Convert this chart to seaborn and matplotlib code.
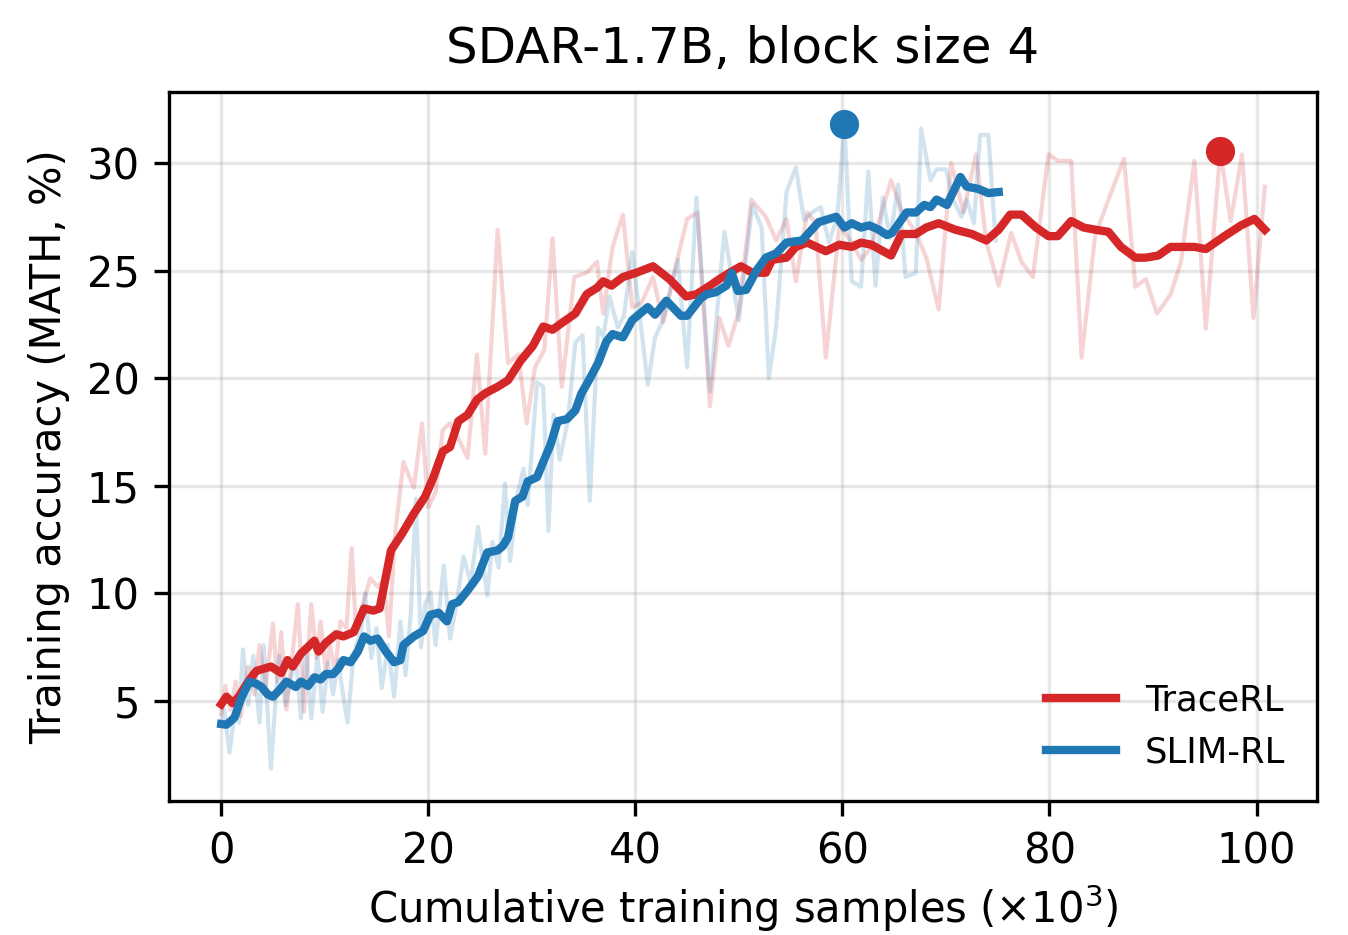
import numpy as np
import pandas as pd
import matplotlib
matplotlib.use("Agg")
import matplotlib.pyplot as plt
import seaborn as sns

# TraceRL: smoothed curve + raw per-step accuracy
trace_smooth_x = [0, 0.5, 1.1, 1.7, 2.6, 3.4, 4.8, 5.8, 6.4, 6.9, 7.7, 9.0, 9.4, 10.1, 11.1, 11.8,
                  12.8, 13.8, 14.7, 15.3, 16.4, 17.5, 18.6, 19.7, 20.5, 21.4, 22.1, 22.9, 23.8, 24.7,
                  25.5, 26.7, 27.7, 28.9, 30.1, 31.1, 32.0, 33.0, 34.2, 35.3, 36.3, 36.9, 37.7, 38.8,
                  40.1, 41.7, 43.3, 44.9, 45.9, 47.2, 48.1, 49.1, 50.2, 51.3, 52.6, 53.2, 54.6, 55.5,
                  56.6, 58.4, 59.7, 60.9, 61.8, 62.8, 64.7, 65.7, 67.1, 68.1, 69.3, 70.9, 72.5, 73.9,
                  75.1, 76.2, 77.3, 78.7, 79.9, 80.8, 82.1, 83.3, 84.4, 85.7, 86.9, 88.3, 89.3, 90.5,
                  91.7, 94.0, 95.1, 96.9, 98.5, 99.8, 100.8]
trace_smooth_y = [4.85, 5.2, 4.9, 5.2, 5.9, 6.4, 6.6, 6.3, 6.9, 6.6, 7.2, 7.8, 7.3, 7.7, 8.1, 8.0,
                  8.2, 9.3, 9.2, 9.3, 12.0, 12.8, 13.7, 14.5, 15.4, 16.6, 16.8, 18.0, 18.3, 19.0,
                  19.3, 19.6, 19.9, 20.8, 21.5, 22.4, 22.25, 22.6, 23.0, 23.9, 24.2, 24.5, 24.3, 24.7,
                  24.9, 25.2, 24.6, 23.8, 23.9, 24.3, 24.6, 24.9, 25.2, 24.9, 24.9, 25.5, 25.6, 26.1,
                  26.3, 25.9, 26.2, 26.1, 26.3, 26.2, 25.7, 26.7, 26.7, 27.0, 27.2, 26.9, 26.7, 26.4,
                  26.9, 27.6, 27.6, 27.0, 26.6, 26.6, 27.3, 27.0, 26.9, 26.8, 26.1, 25.6, 25.6, 25.7,
                  26.1, 26.1, 26.0, 26.6, 27.1, 27.4, 26.9]

trace_raw_x = [0, 0.4, 0.9, 1.4, 1.9, 2.6, 3.2, 3.7, 4.3, 5.0, 5.4, 5.8, 6.3, 6.8, 7.4, 8.0, 8.7,
               9.2, 9.6, 10.1, 10.5, 11.0, 11.5, 12.1, 12.6, 13.0, 13.8, 14.4, 15.1, 15.7, 16.2,
               16.8, 17.6, 18.6, 19.4, 20.0, 20.7, 21.4, 22.1, 23.0, 23.8, 24.7, 25.5, 26.7, 27.7,
               28.7, 29.5, 30.3, 31.2, 32.0, 32.9, 34.1, 35.3, 36.3, 36.9, 37.8, 38.8, 39.7, 40.6,
               41.7, 42.7, 44.1, 45.0, 46.0, 47.2, 48.1, 49.0, 50.0, 51.2, 52.6, 53.6, 54.6, 55.5,
               56.6, 57.4, 58.4, 59.7, 60.9, 61.8, 62.8, 64.7, 65.7, 67.1, 68.1, 69.3, 70.5, 71.7,
               72.9, 73.9, 75.1, 76.3, 77.3, 78.4, 79.9, 80.8, 82.1, 83.1, 84.4, 85.7, 87.2, 88.3,
               89.3, 90.4, 91.7, 92.7, 94.0, 95.1, 96.5, 97.5, 98.6, 99.7, 100.8]
trace_raw_y = [4.4, 5.7, 4.6, 5.9, 4.3, 6.6, 5.3, 7.6, 5.7, 8.6, 5.9, 8.2, 4.6, 6.8, 9.5, 4.5, 9.5,
               7.0, 8.7, 6.4, 7.6, 6.3, 8.7, 8.4, 12.1, 8.4, 9.7, 10.7, 10.3, 10.6, 8.0,
               12.8, 16.1, 14.9, 17.9, 14.0, 14.7, 17.6, 17.9, 17.1, 16.3, 21.1, 16.5, 26.9, 20.7,
               21.1, 17.9, 20.5, 21.3, 26.5, 19.6, 24.7, 24.9, 25.4, 23.0, 26.1, 27.6, 23.3, 23.5,
               24.7, 22.6, 25.6, 27.4, 27.7, 18.7, 22.8, 21.5, 23.1, 28.3, 27.5, 26.4, 27.4, 24.5,
               27.7, 27.2, 20.95, 27.1, 26.3, 25.5, 26.1, 29.2, 27.8, 26.75, 25.6, 23.2, 30.0, 27.7,
               30.4, 26.3, 24.3, 26.75, 25.4, 24.7, 30.4, 30.1, 30.1, 20.95, 26.6, 28.3, 30.2, 24.25,
               24.6, 23.0, 23.9, 25.4, 30.1, 22.3, 30.55, 27.3, 30.4, 22.8, 28.9]

# SLIM-RL: smoothed curve + raw per-step accuracy
slim_smooth_x = [0, 0.5, 1.0, 1.3, 1.9, 2.7, 3.4, 3.9, 4.5, 5.0, 5.6, 6.3, 7.2, 7.7, 8.4, 9.0, 9.6,
                 10.1, 10.8, 11.3, 11.8, 12.5, 13.2, 13.8, 14.4, 15.1, 15.9, 16.7, 17.3, 17.6, 18.6,
                 19.5, 20.2, 21.0, 21.8, 22.3, 22.9, 23.9, 24.8, 25.7, 26.7, 27.2, 27.7, 28.4, 29.1,
                 29.6, 30.5, 31.1, 31.8, 32.5, 33.4, 34.2, 34.8, 35.4, 36.4, 37.2, 37.8, 38.8, 39.7,
                 41.2, 41.9, 43.0, 44.4, 45.0, 46.3, 46.9, 47.8, 48.8, 49.3, 49.9, 50.7, 51.7, 52.6,
                 53.6, 54.6, 56.1, 57.7, 59.4, 60.2, 60.9, 61.8, 62.6, 63.5, 64.3, 64.8, 66.2, 67.1,
                 67.9, 68.5, 69.1, 70.1, 71.4, 72.0, 73.1, 74.1, 75.1]
slim_smooth_y = [3.93, 3.9, 4.1, 4.25, 5.1, 5.9, 5.8, 5.65, 5.3, 5.2, 5.5, 5.9, 5.65, 5.9, 5.7, 6.1, 6.0,
                 6.25, 6.25, 6.5, 6.9, 6.8, 7.3, 8.0, 7.8, 7.9, 7.3, 6.8, 6.9, 7.6, 8.0,
                 8.25, 9.0, 9.1, 8.7, 9.5, 9.6, 10.2, 10.8, 11.9, 12.0, 12.2, 12.6, 14.3, 14.5,
                 15.2, 15.4, 16.1, 16.9, 18.0, 18.1, 18.5, 19.3, 19.8, 20.7, 21.7, 22.05, 21.9, 22.7,
                 23.3, 22.95, 23.6, 22.9, 22.9, 23.7, 23.9, 24.0, 24.3, 24.9, 24.05, 24.1, 25.0, 25.6,
                 25.8, 26.3, 26.4, 27.25, 27.5, 27.0, 27.2, 27.0, 27.1, 26.9, 26.65, 26.75, 27.7, 27.7,
                 28.05, 27.95, 28.3, 28.05, 29.35, 28.9, 28.8, 28.6, 28.65]

slim_raw_x = [0, 0.3, 0.8, 1.3, 1.7, 2.1, 2.6, 3.1, 3.7, 4.1, 4.8, 5.3, 5.6, 6.2, 6.7, 7.2, 7.7, 8.2,
              8.7, 9.3, 9.8, 10.3, 10.8, 11.3, 11.7, 12.2, 12.8, 13.5, 13.9, 14.5, 15.0, 15.5, 16.1,
              16.7, 17.3, 17.8, 18.3, 18.8, 19.3, 19.7, 20.2, 20.7, 21.5, 22.1, 22.7, 23.4, 24.1,
              24.8, 25.7, 26.2, 26.8, 27.4, 27.9, 28.6, 29.2, 29.6, 30.5, 31.1, 31.6, 32.1, 32.7,
              33.5, 34.2, 34.9, 35.6, 36.4, 36.9, 37.5, 38.3, 38.9, 39.7, 40.4, 41.2, 41.9, 42.6,
              44.1, 45.0, 45.9, 47.2, 48.6, 50.0, 51.3, 52.2, 52.9, 53.6, 54.6, 55.5, 56.3, 57.1,
              57.9, 58.7, 59.5, 60.2, 60.9, 61.8, 62.5, 63.2, 63.9, 64.6, 65.4, 66.1, 67.1, 67.6,
              68.5, 69.1, 70.0, 70.7, 71.5, 72.0, 72.7, 73.3, 74.1, 74.8]
slim_raw_y = [3.85, 4.6, 2.6, 4.4, 4.0, 7.4, 4.8, 7.1, 4.0, 7.6, 1.85, 5.4, 7.1, 4.8, 6.0, 7.0, 4.2, 7.4,
              4.2, 7.1, 4.5, 6.8, 5.3, 6.9, 5.5, 4.0, 7.2, 8.3, 10.0, 7.0, 8.4, 5.6, 7.6,
              5.2, 8.7, 6.2, 9.0, 14.4, 7.5, 9.5, 10.05, 7.6, 11.3, 7.9, 9.4, 11.7, 10.5,
              13.1, 9.9, 12.4, 11.2, 15.1, 11.5, 14.6, 15.8, 14.1, 19.8, 19.6, 12.9, 18.3, 16.2,
              18.1, 21.65, 22.0, 14.3, 22.35, 21.9, 23.8, 22.35, 22.9, 25.85, 23.0, 19.7, 21.9, 22.6,
              25.5, 20.5, 28.4, 19.4, 26.8, 22.7, 28.05, 27.0, 20.0, 22.4, 28.65, 29.8, 27.35, 27.7,
              27.95, 26.3, 27.5, 31.8, 24.5, 24.25, 29.6, 24.3, 28.4, 26.5, 29.0, 24.7, 24.9, 31.6,
              29.2, 29.7, 29.7, 28.3, 27.5, 28.3, 27.2, 31.3, 31.3, 26.4]

RED = "#d62728"
BLUE = "#1f77b4"

plt.rcParams['font.family'] = ['DejaVu Sans']

fig, ax = plt.subplots(figsize=(1348 / 300, 935 / 300), dpi=300)
fig.subplots_adjust(left=0.1254, right=0.977, bottom=0.1433, top=0.9016)

ax.grid(True, alpha=0.3, zorder=0)
ax.set_axisbelow(True)

# raw curves, faint
sns.lineplot(x=trace_raw_x, y=trace_raw_y, color=RED, alpha=0.2, linewidth=1.0, ax=ax)
sns.lineplot(x=slim_raw_x, y=slim_raw_y, color=BLUE, alpha=0.2, linewidth=1.0, ax=ax)

# smoothed curves
sns.lineplot(x=trace_smooth_x, y=trace_smooth_y, color=RED, linewidth=2.0, label="TraceRL", ax=ax)
sns.lineplot(x=slim_smooth_x, y=slim_smooth_y, color=BLUE, linewidth=2.0, label="SLIM-RL", ax=ax)

# mark best raw accuracy of each run
for xs, ys, c in [(trace_raw_x, trace_raw_y, RED), (slim_raw_x, slim_raw_y, BLUE)]:
    i = int(np.argmax(ys))
    ax.plot(xs[i], ys[i], "o", color=c, markersize=6, zorder=5)

ax.set_title("SDAR-1.7B, block size 4", fontsize=12, pad=7)
ax.set_xlabel(r"Cumulative training samples ($\times10^3$)", fontsize=10, labelpad=2.5)
ax.set_ylabel("Training accuracy (MATH, %)", fontsize=10)
ax.tick_params(labelsize=10)
ax.set_xticks([0, 20, 40, 60, 80, 100])
ax.set_yticks([5, 10, 15, 20, 25, 30])
ax.legend(loc="lower right", frameon=False, fontsize=8.5)

fig.savefig("out.png", dpi=300)
